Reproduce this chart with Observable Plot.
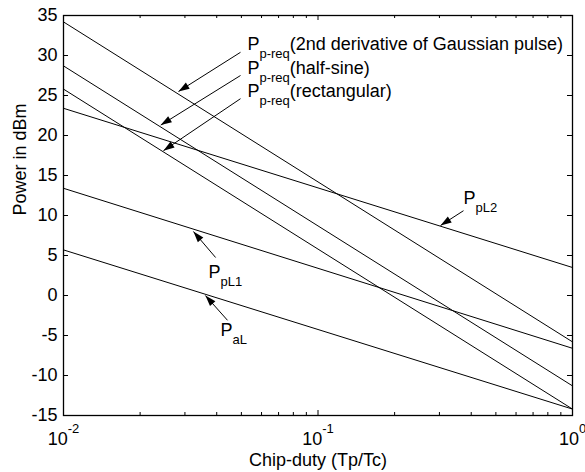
<!DOCTYPE html>
<html><head><meta charset="utf-8">
<script src="https://cdn.jsdelivr.net/npm/d3@7"></script>
<script src="https://cdn.jsdelivr.net/npm/@observablehq/plot@0.6"></script>
<style>
body{margin:0;background:#fff}
</style>
</head><body><div id="chart"></div>
<script>
// Data
const chipDuty = [0.01, 1];
const gaussPulse = [34.2, -5.8];
const halfSine = [28.7, -11.3];
const rectangular = [25.8, -14.2];
const pL2 = [23.4, 3.5];
const pL1 = [13.4, -6.6];
const paL = [5.7, -14.2];

const yTicks = [-15, -10, -5, 0, 5, 10, 15, 20, 25, 30, 35];
const xMajor = [0.01, 0.1, 1];
const xMajorLabels = ["10|-2", "10|-1", "10|0"];
const xMinor = [0.02,0.03,0.04,0.05,0.06,0.07,0.08,0.09,0.2,0.3,0.4,0.5,0.6,0.7,0.8,0.9];

const series = [
  {name: "gauss", values: gaussPulse},
  {name: "halfsine", values: halfSine},
  {name: "rect", values: rectangular},
  {name: "pL2", values: pL2},
  {name: "pL1", values: pL1},
  {name: "paL", values: paL}
];
const lineData = series.flatMap(s => chipDuty.map((x, i) => ({series: s.name, x, y: s.values[i]})));

// annotation arrows (tail -> head) in data units
const arrowX1 = [0.0496, 0.0496, 0.0496, 0.373, 0.0396, 0.0441];
const arrowY1 = [30.4, 27.5, 24.6, 10.6, 4.75, -3.1];
const arrowX2 = [0.0283, 0.0241, 0.0247, 0.303, 0.0324, 0.0361];
const arrowY2 = [25.5, 21.3, 18.1, 8.75, 8.0, 0.0];
const arrows = arrowX1.map((x1, i) => ({x1, y1: arrowY1[i], x2: arrowX2[i], y2: arrowY2[i]}));

// annotation labels
const labelX = [0.0528, 0.0528, 0.0528, 0.373, 0.0371, 0.0414];
const labelY = [30.7, 27.7, 24.8, 11.5, 2.25, -5.1];
const labelText = [
  "P|p-req|(2nd derivative of Gaussian pulse)",
  "P|p-req|(half-sine)",
  "P|p-req|(rectangular)",
  "P|pL2",
  "P|pL1",
  "P|aL"
];
const labels = labelX.map((x, i) => ({x, y: labelY[i], text: labelText[i]}));

const W = 585, H = 472, mL = 63, mR = 13, mT = 15, mB = 57;
const pw = W - mL - mR, ph = H - mT - mB;
const FS = 18;

const chart = Plot.plot({
  width: W, height: H,
  marginLeft: mL, marginRight: mR, marginTop: mT, marginBottom: mB,
  style: {fontFamily: "'Liberation Sans', Arial, Helvetica, sans-serif", background: "#fff", color: "black"},
  x: {type: "log", domain: [0.01, 1], axis: null},
  y: {domain: [-15, 35], axis: null},
  marks: [
    Plot.line(lineData, {x: "x", y: "y", z: "series", stroke: "black", strokeWidth: 1}),
    // inward ticks
    Plot.tickY(yTicks, {y: d => d, stroke: "black", insetRight: pw - 5}),
    Plot.tickY(yTicks, {y: d => d, stroke: "black", insetLeft: pw - 5}),
    Plot.tickX(xMajor, {x: d => d, stroke: "black", insetTop: ph - 5}),
    Plot.tickX(xMajor, {x: d => d, stroke: "black", insetBottom: ph - 5}),
    Plot.tickX(xMinor, {x: d => d, stroke: "black", insetTop: ph - 3}),
    Plot.tickX(xMinor, {x: d => d, stroke: "black", insetBottom: ph - 3}),
    Plot.frame({stroke: "black", strokeWidth: 1.3}),
    // tick labels
    Plot.text(yTicks, {y: d => d, frameAnchor: "left", textAnchor: "end", dx: -6, fontSize: FS, text: d => String(d), fill: "black"}),
    Plot.text(xMajor, {x: d => d, frameAnchor: "bottom", lineAnchor: "bottom", dy: 29, fontSize: FS, text: (d, i) => xMajorLabels[i], fill: "black"}),
    // axis labels
    Plot.text(["Power in dBm"], {frameAnchor: "left", dx: -43, rotate: -90, fontSize: FS, text: d => d, fill: "black"}),
    Plot.text(["Chip-duty (Tp/Tc)"], {frameAnchor: "bottom", lineAnchor: "bottom", dy: 50, fontSize: FS, text: d => d, fill: "black"}),
    // annotations
    Plot.link(arrows, {x1: "x1", y1: "y1", x2: "x2", y2: "y2", stroke: "black", strokeWidth: 1}),
    Plot.text(labels, {x: "x", y: "y", text: "text", textAnchor: "start", lineAnchor: "bottom", fontSize: FS, fill: "black"})
  ]
});

document.getElementById("chart").appendChild(chart);

// rich text: subscripts / superscripts
const svg = d3.select(chart);
svg.selectAll("text").each(function () {
  const t = this.textContent;
  if (!t.includes("|")) return;
  const parts = t.split("|");
  const sup = parts[0] === "10";
  const sel = d3.select(this);
  sel.text(null);
  sel.append("tspan").text(parts[0]);
  sel.append("tspan").attr("font-size", 13).attr("dy", sup ? -12 : 8).text(parts[1]);
  if (parts[2]) sel.append("tspan").attr("font-size", FS).attr("dy", sup ? 12 : -8).text(parts[2]);
});

// filled arrowheads
const defs = svg.append("defs");
defs.append("marker")
  .attr("id", "tri-head")
  .attr("viewBox", "-12 -5 13 10")
  .attr("markerWidth", 13).attr("markerHeight", 10)
  .attr("markerUnits", "userSpaceOnUse")
  .attr("refX", 0).attr("refY", 0)
  .attr("orient", "auto")
  .append("path").attr("d", "M0,0L-11,-3.6L-11,3.6Z").attr("fill", "black").attr("stroke", "none");
svg.selectAll('g[aria-label="link"] path, g[aria-label="link"] line').attr("marker-end", "url(#tri-head)");
</script>
</body></html>
